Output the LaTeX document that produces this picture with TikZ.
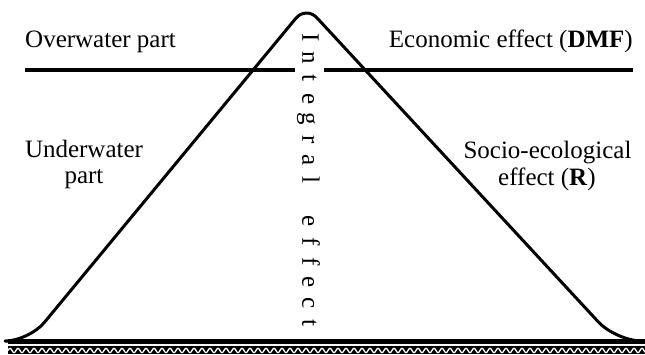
\documentclass[tikz,border=0pt]{standalone}
\usepackage{fontspec}
\setmainfont{Liberation Serif}
\newcommand\lbx[1]{\makebox[20.4pt][c]{#1}}
\begin{document}
\begin{tikzpicture}[x=1pt,y=-1pt,
  lbl/.style={inner sep=0pt,font=\fontsize{25}{30}\selectfont},
  heavy/.style={line width=4pt},
  pyr/.style={line width=3pt,line join=round}]
\useasboundingbox (0,0) rectangle (645,354);
% ground band
\fill[black] (8,339) rectangle (645,344);
\fill[black] (8,345.5) rectangle (645,354);
\draw[white,line width=1.3pt] (8,350.5) \foreach \i in {0,...,79} { sin ++(2,-2.2) cos ++(2,2.2) sin ++(2,2.2) cos ++(2,-2.2) };
% pyramid
\draw[pyr] (8,341) [rounded corners=24pt] -- (29,341) [rounded corners=16pt] -- (306,6) [rounded corners=26pt] -- (616,341) [rounded corners=0pt] -- (638,341);
% water line
\draw[heavy] (25,70) -- (295,70);
\draw[heavy] (324,70) -- (633,70);
% texts
\node[lbl,anchor=base west] (ow) at (25,47) {Overwater part};
\node[lbl,anchor=base east] (ec) at (633,47) {Economic effect (\textbf{DMF})};
\node[lbl,anchor=base] (uw1) at (84,157) {Underwater};
\node[lbl,anchor=base] (uw2) at (84,183) {part};
\node[lbl,anchor=base] (se1) at (547.5,158) {Socio-ecological};
\node[lbl,anchor=base] (se2) at (547,185) {effect (\textbf{R})};
\node[inner sep=0pt,font=\fontsize{25}{30}\selectfont,rotate=-90,anchor=west] (ie) at (308.5,27)
  {\lbx{I}\lbx{n}\lbx{t}\lbx{e}\lbx{g}\lbx{r}\lbx{a}\lbx{l}\lbx{ }\lbx{e}\lbx{f}\lbx{f}\lbx{e}\lbx{c}\lbx{t}};
\end{tikzpicture}
\end{document}
